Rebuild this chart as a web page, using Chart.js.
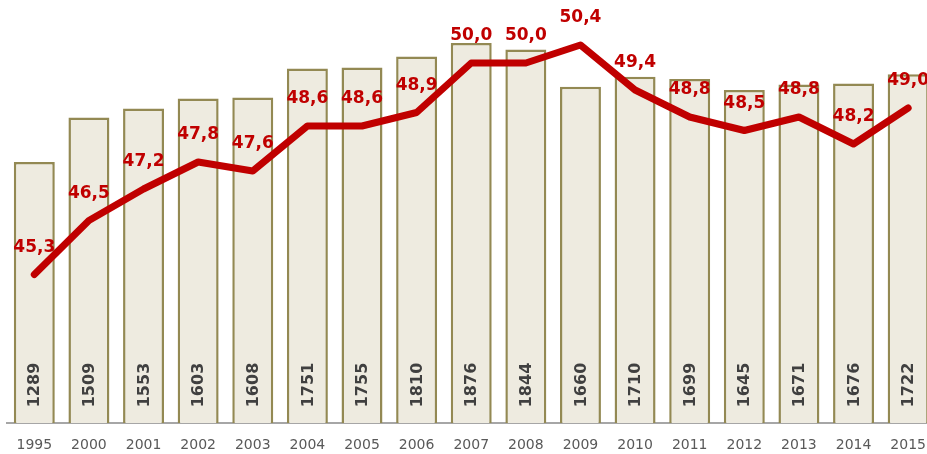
<!DOCTYPE html>
<html>
<head>
<meta charset="utf-8">
<script src="https://cdn.jsdelivr.net/npm/chart.js@4"></script>
<style>
    html, body { margin: 0; padding: 0; background: #fff; overflow: hidden; }
    #wrap { width: 940px; height: 454px; }
</style>
</head>
<body>
<div id="wrap"><canvas id="mainChart" width="940" height="454"></canvas></div>
<script>
// Datos del gráfico
const years = ['1995', '2000', '2001', '2002', '2003', '2004', '2005', '2006', '2007',
    '2008', '2009', '2010', '2011', '2012', '2013', '2014', '2015'];
const barValues = [1289, 1509, 1553, 1603, 1608, 1751, 1755, 1810, 1876,
    1844, 1660, 1710, 1699, 1645, 1671, 1676, 1722];
const lineValues = [45.3, 46.5, 47.2, 47.8, 47.6, 48.6, 48.6, 48.9, 50.0,
    50.0, 50.4, 49.4, 48.8, 48.5, 48.8, 48.2, 49.0];

const FONT = "'DejaVu Sans', Verdana, sans-serif";

// Etiquetas de valores (barras y línea)
const valueLabels = {
    id: 'valueLabels',
    afterDatasetsDraw(chart) {
        const ctx = chart.ctx;
        const bars = chart.getDatasetMeta(0).data;
        const points = chart.getDatasetMeta(1).data;

        ctx.save();
        ctx.fillStyle = '#404040';
        ctx.font = 'bold 16px ' + FONT;
        ctx.textAlign = 'center';
        ctx.textBaseline = 'middle';
        bars.forEach((bar, i) => {
            ctx.save();
            ctx.translate(bar.x, 385);
            ctx.rotate(-Math.PI / 2);
            ctx.fillText(String(barValues[i]), 0, 1);
            ctx.restore();
        });

        ctx.fillStyle = '#c00000';
        ctx.font = 'bold 17px ' + FONT;
        points.forEach((pt, i) => {
            ctx.fillText(lineValues[i].toFixed(1).replace('.', ','), pt.x, pt.y - 27);
        });
        ctx.restore();
    }
};

new Chart(document.getElementById('mainChart'), {
    type: 'bar',
    data: {
        labels: years,
        datasets: [{
            type: 'bar',
            data: barValues,
            yAxisID: 'y',
            backgroundColor: '#eeebe0',
            borderColor: '#938953',
            borderWidth: 2.5,
            barPercentage: 0.75,
            categoryPercentage: 1,
            order: 2
        }, {
            type: 'line',
            data: lineValues,
            yAxisID: 'y1',
            borderColor: '#c00000',
            borderWidth: 7,
            borderJoinStyle: 'round',
            borderCapStyle: 'round',
            pointRadius: 0,
            tension: 0,
            fill: false,
            clip: false,
            order: 1
        }]
    },
    plugins: [valueLabels],
    options: {
        responsive: false,
        animation: false,
        layout: {
            padding: { left: 7, right: 1, top: 18, bottom: 2 }
        },
        plugins: {
            legend: { display: false },
            tooltip: { enabled: false }
        },
        scales: {
            x: {
                grid: { display: false, drawTicks: false },
                border: { display: true, color: '#a6a6a6', width: 2 },
                ticks: {
                    color: '#595959',
                    padding: 14,
                    maxRotation: 0,
                    font: { family: FONT, size: 14 }
                },
                afterFit(scale) {
                    scale.height = 29;
                }
            },
            y: {
                display: false,
                min: 0,
                max: 2000
            },
            y1: {
                display: false,
                min: 42,
                max: 51
            }
        }
    }
});
</script>
</body>
</html>
